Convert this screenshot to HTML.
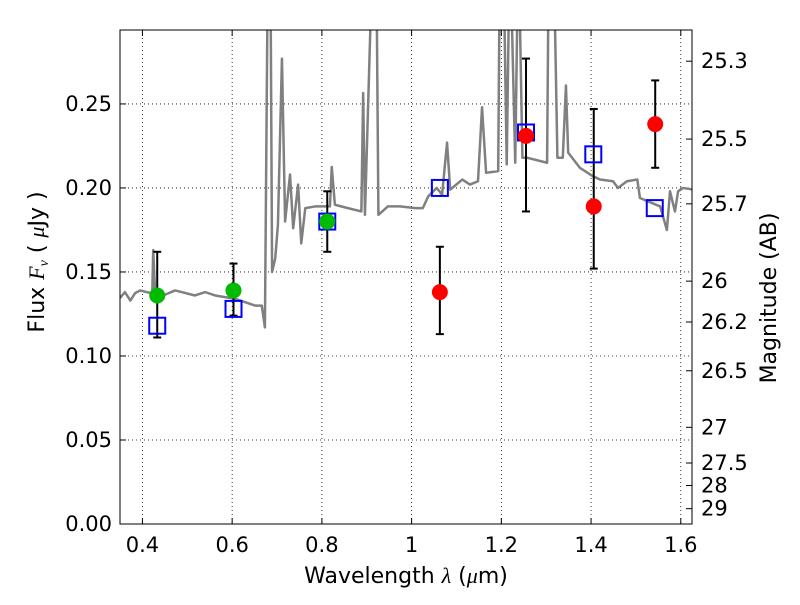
<!DOCTYPE html>
<html><head><meta charset="utf-8"><style>
body{margin:0;background:#fff}
svg{font-family:"DejaVu Sans","Liberation Sans",sans-serif}
</style></head><body>
<svg id="c" width="800" height="600"></svg>
<script>
const specWave=[0.350,0.361,0.373,0.384,0.395,0.417,0.422,0.424,0.428,0.435,0.446,0.473,0.495,0.517,0.540,0.562,0.584,0.607,0.629,0.651,0.666,0.673,0.680,0.685,0.689,0.696,0.702,0.711,0.718,0.729,0.736,0.747,0.754,0.763,0.785,0.818,0.822,0.829,0.858,0.888,0.892,0.896,0.914,0.921,0.926,0.947,0.974,1.008,1.025,1.037,1.056,1.068,1.079,1.086,1.113,1.130,1.148,1.157,1.166,1.193,1.197,1.204,1.212,1.219,1.231,1.238,1.247,1.257,1.302,1.306,1.316,1.325,1.337,1.344,1.349,1.375,1.404,1.420,1.449,1.460,1.480,1.503,1.509,1.554,1.569,1.576,1.587,1.594,1.605,1.628];
const specFlux=[0.1345,0.138,0.133,0.1375,0.139,0.1375,0.138,0.163,0.139,0.133,0.136,0.139,0.1375,0.136,0.138,0.136,0.135,0.134,0.132,0.130,0.130,0.117,0.35,0.35,0.150,0.158,0.178,0.277,0.180,0.208,0.176,0.202,0.167,0.188,0.189,0.189,0.2125,0.190,0.188,0.186,0.2565,0.184,0.35,0.35,0.184,0.189,0.189,0.188,0.188,0.195,0.200,0.196,0.227,0.199,0.205,0.202,0.204,0.248,0.209,0.210,0.35,0.35,0.214,0.35,0.215,0.35,0.218,0.218,0.215,0.35,0.35,0.218,0.218,0.261,0.221,0.212,0.207,0.205,0.204,0.200,0.204,0.205,0.194,0.189,0.175,0.198,0.186,0.198,0.200,0.199];
const greenWave=[0.433,0.603,0.812];
const greenFlux=[0.136,0.139,0.180];
const greenHi=[0.162,0.155,0.198];
const greenLo=[0.111,0.124,0.162];
const redWave=[1.063,1.255,1.406,1.543];
const redFlux=[0.138,0.231,0.189,0.238];
const redHi=[0.165,0.277,0.247,0.264];
const redLo=[0.113,0.186,0.152,0.212];
const modelWave=[0.433,0.603,0.812,1.063,1.255,1.405,1.542];
const modelFlux=[0.118,0.128,0.180,0.200,0.233,0.220,0.188];
const xTicks=[0.4,0.6,0.8,1.0,1.2,1.4,1.6];
const xTickLabels=["0.4","0.6","0.8","1","1.2","1.4","1.6"];
const yTicks=[0,0.05,0.10,0.15,0.20,0.25];
const yTickLabels=["0.00","0.05","0.10","0.15","0.20","0.25"];
const magTicks=[25.3,25.5,25.7,26,26.2,26.5,27,27.5,28,29];

const L=120,R=692,T=30,B=524,xmin=0.350,xmax=1.625,ymin=0,ymax=0.294;
const sx=v=>L+(v-xmin)/(xmax-xmin)*(R-L);
const sy=v=>B-(v-ymin)/(ymax-ymin)*(B-T);
const magToFlux=m=>Math.pow(10,(23.9-m)/2.5);
const svg=document.getElementById('c');const NS='http://www.w3.org/2000/svg';
function mk(t,a,p){const e=document.createElementNS(NS,t);for(const k in a)e.setAttribute(k,a[k]);(p||svg).appendChild(e);return e;}
const defs=mk('defs',{});const cp=mk('clipPath',{id:'cp'},defs);mk('rect',{x:L,y:T,width:R-L,height:B-T},cp);

xTicks.forEach((t,i)=>{const x=sx(t);
 const g=mk('line',{x1:x,x2:x,y1:T,y2:B,stroke:'#000','stroke-width':0.8,'stroke-dasharray':'1,3'});
 
 mk('line',{x1:x,x2:x,y1:B,y2:B-6,stroke:'#000'});mk('line',{x1:x,x2:x,y1:T,y2:T+6,stroke:'#000'});
 const tx=mk('text',{x:x,y:B+28,'font-size':21,'text-anchor':'middle'});tx.textContent=xTickLabels[i];
 });
yTicks.forEach((t,i)=>{const y=sy(t);
 const g=mk('line',{x1:L,x2:R,y1:y,y2:y,stroke:'#000','stroke-width':0.8,'stroke-dasharray':'1,3'});
 
 mk('line',{x1:L,x2:L+6,y1:y,y2:y,stroke:'#000'});
 const tx=mk('text',{x:L-8,y:y+7,'font-size':21,'text-anchor':'end'});tx.textContent=yTickLabels[i];
 });
magTicks.forEach(m=>{const y=sy(magToFlux(m));
 mk('line',{x1:R,x2:R-6,y1:y,y2:y,stroke:'#000'});
 const tx=mk('text',{x:R+9,y:y+7,'font-size':21});tx.textContent=String(m);
 });

const sp=mk('polyline',{points:specWave.map((w,i)=>sx(w)+','+sy(specFlux[i])).join(' '),fill:'none',stroke:'#808080','stroke-width':2.5,'clip-path':'url(#cp)','stroke-linejoin':'round'});


function eb(w,hi,lo){const x=sx(w);
 const g=mk('g',{stroke:'#000','stroke-width':2});
 
 mk('line',{x1:x,x2:x,y1:sy(hi),y2:sy(lo)},g);
 mk('line',{x1:x-4,x2:x+4,y1:sy(hi),y2:sy(hi)},g);mk('line',{x1:x-4,x2:x+4,y1:sy(lo),y2:sy(lo)},g);}
greenWave.forEach((w,i)=>eb(w,greenHi[i],greenLo[i]));
redWave.forEach((w,i)=>eb(w,redHi[i],redLo[i]));
modelWave.forEach((w,i)=>{const r=mk('rect',{x:sx(w)-8,y:sy(modelFlux[i])-8,width:16,height:16,fill:'none',stroke:'#0000ff','stroke-width':2});
 });
greenWave.forEach((w,i)=>{const c=mk('circle',{cx:sx(w),cy:sy(greenFlux[i]),r:8,fill:'#00bb00'});
 });
redWave.forEach((w,i)=>{const c=mk('circle',{cx:sx(w),cy:sy(redFlux[i]),r:8,fill:'#ff0000'});
 });

const fr=mk('rect',{x:L,y:T,width:R-L,height:B-T,fill:'none',stroke:'#000','stroke-width':1});

let t=mk('text',{x:406,y:583,'font-size':22,'text-anchor':'middle'});
t.innerHTML='Wavelength  <tspan font-style="italic" font-family="Liberation Serif,serif">λ</tspan> (<tspan font-style="italic" font-family="Liberation Serif,serif">μ</tspan>m)';

t=mk('text',{x:0,y:0,'font-size':22,'text-anchor':'middle',transform:'translate(44,262) rotate(-90)'});
t.innerHTML='Flux  <tspan font-style="italic" font-family="Liberation Serif,serif">F<tspan font-size="14" dy="4">ν</tspan></tspan><tspan dy="-4">  ( </tspan><tspan font-style="italic" font-family="Liberation Serif,serif">μ</tspan>Jy )';

t=mk('text',{x:0,y:0,'font-size':22,'text-anchor':'middle',transform:'translate(776,298) rotate(-90)'});
t.textContent='Magnitude (AB)';

</script>
</body></html>
